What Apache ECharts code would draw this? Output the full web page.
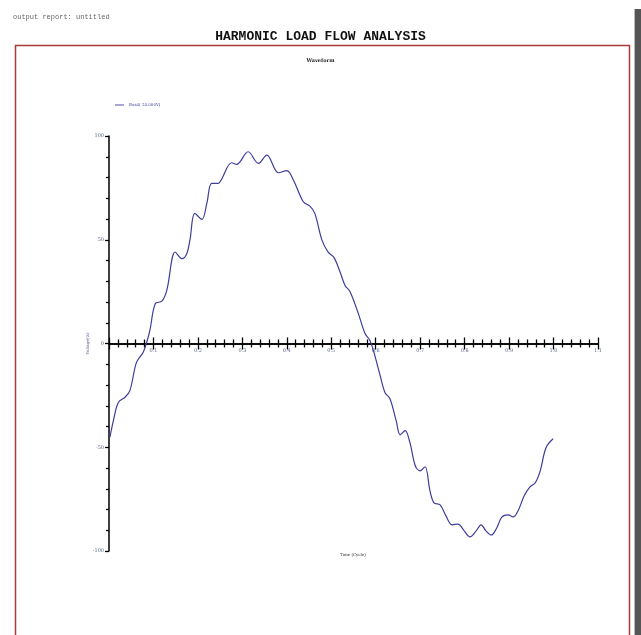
<!DOCTYPE html>
<html>
<head>
<meta charset="utf-8">
<style>
  html, body { margin: 0; padding: 0; background: #ffffff; }
  #chart { width: 641px; height: 635px; }
</style>
<script src="https://cdn.jsdelivr.net/npm/echarts@6/dist/echarts.min.js"></script>
</head>
<body>
<div id="chart"></div>
<script>
// Bus voltage waveform over one fundamental cycle (time in cycles, voltage in %)
const timeCycle = [
  0.002, 0.010, 0.021, 0.036, 0.047, 0.062, 0.077, 0.084, 0.092, 0.104,
  0.119, 0.130, 0.149, 0.164, 0.175, 0.182, 0.193, 0.209, 0.220, 0.231,
  0.246, 0.252, 0.276, 0.287, 0.313, 0.336, 0.355, 0.381, 0.400, 0.415,
  0.437, 0.452, 0.463, 0.479, 0.493, 0.506, 0.520, 0.531, 0.542, 0.560,
  0.576, 0.587, 0.596, 0.610, 0.621, 0.632, 0.646, 0.655, 0.666, 0.677,
  0.689, 0.700, 0.711, 0.722, 0.731, 0.745, 0.758, 0.772, 0.785, 0.799,
  0.812, 0.826, 0.837, 0.848, 0.860, 0.871, 0.884, 0.898, 0.909, 0.920,
  0.934, 0.947, 0.959, 0.970, 0.983, 0.999
];
const voltagePct = [
  -45.3, -37.0, -28.4, -25.9, -22.7, -9.0, -4.2, 0.0, 6.3, 19.2,
  20.4, 25.6, 44.1, 40.9, 43.3, 49.8, 62.7, 59.8, 67.5, 77.2,
  77.2, 78.7, 87.1, 86.3, 92.4, 86.8, 90.8, 82.3, 83.3, 78.7,
  68.3, 66.2, 62.7, 49.8, 44.0, 41.5, 34.3, 28.0, 25.1, 15.0,
  4.8, 1.4, -4.3, -15.5, -23.7, -26.6, -37.2, -44.0, -42.0, -47.8,
  -58.9, -61.4, -59.4, -71.0, -76.8, -77.8, -83.1, -87.4, -87.0, -90.3,
  -93.2, -90.3, -87.4, -90.3, -92.3, -89.4, -83.6, -82.6, -83.6, -80.7,
  -73.4, -69.1, -67.1, -61.4, -50.2, -45.9
];
const yTicks = [-100, -50, 0, 50, 100];
const xTickLabels = ['0.1', '0.2', '0.3', '0.4', '0.5', '0.6', '0.7', '0.8', '0.9', '1.0', '1.1'];
const seriesName = 'Bus4( 24.000V)';

const chart = echarts.init(document.getElementById('chart'), null, { renderer: 'canvas' });

const tinyLabel = { fontSize: 5, color: '#5a6a8a', fontFamily: 'DejaVu Serif' };
const plotBox = { left: 109, right: 43, top: 136, bottom: 84, containLabel: false };
const tickStyle = { color: '#000', width: 1.3 };

// Two overlaid grids: the second one only carries the upward half of the
// time-axis ticks so that every tick crosses the zero line.
chart.setOption({
  animation: false,
  backgroundColor: '#ffffff',
  title: [
    { text: 'output report: untitled', left: 8, top: 9,
      textStyle: { fontFamily: 'Liberation Mono', fontSize: 7, fontWeight: 'normal', color: '#666' } },
    { text: 'HARMONIC LOAD FLOW ANALYSIS', left: 'center', top: 25,
      textStyle: { fontFamily: 'Liberation Mono', fontSize: 13, fontWeight: 'bold', color: '#111' } },
    { text: 'Waveform', left: 'center', top: 53,
      textStyle: { fontFamily: 'DejaVu Serif', fontSize: 5, fontWeight: 'bold', color: '#222' } }
  ],
  graphic: [
    { type: 'rect', silent: true, shape: { x: 15.5, y: 45.5, width: 614, height: 620 },
      style: { fill: 'none', stroke: '#a83a3a', lineWidth: 1.5 } },
    { type: 'rect', silent: true, shape: { x: 634, y: 9, width: 1, height: 626 },
      style: { fill: '#bbbbbb' } },
    { type: 'rect', silent: true, shape: { x: 635, y: 9, width: 6, height: 626 },
      style: { fill: '#555555' } },
    { type: 'text', silent: true, left: 340, top: 553,
      style: { text: 'Time (Cycle)', fontSize: 4, fill: '#333', fontFamily: 'DejaVu Serif' } }
  ],
  legend: {
    left: 110, top: 98, itemWidth: 9, itemHeight: 4, itemGap: 2,
    icon: 'path://M0,0 L10,0 L10,1 L0,1 Z',
    data: [seriesName],
    textStyle: { fontSize: 4, color: '#4a4aa0', fontFamily: 'DejaVu Serif' }
  },
  grid: [Object.assign({}, plotBox), Object.assign({}, plotBox)],
  xAxis: [
    {
      gridIndex: 0, type: 'value', min: 0, max: 1.1, interval: 0.1,
      axisLine: { show: true, onZero: true, lineStyle: { color: '#000', width: 1.5 } },
      axisTick: { show: true, length: 6, lineStyle: tickStyle },
      minorTick: { show: true, splitNumber: 5, length: 4, lineStyle: tickStyle },
      splitLine: { show: false },
      // labels sit just under the zero line
      axisLabel: Object.assign({}, tinyLabel, {
        margin: -203,
        formatter: function (v) {
          const i = Math.round(v * 10);
          return i >= 1 ? xTickLabels[i - 1] : '';
        }
      })
    },
    {
      gridIndex: 1, type: 'value', min: 0, max: 1.1, interval: 0.1,
      axisLine: { show: true, onZero: true, lineStyle: { color: '#000', width: 1.5 } },
      axisTick: { show: true, inside: true, length: 6, lineStyle: tickStyle },
      minorTick: { show: true, splitNumber: 5, length: 4, lineStyle: tickStyle },
      splitLine: { show: false },
      axisLabel: { show: false }
    }
  ],
  yAxis: [
    {
      gridIndex: 0, type: 'value', min: -100, max: 100, interval: 50,
      name: 'Voltage(%)', nameLocation: 'middle', nameGap: 19, nameRotate: 90,
      nameMoveOverlap: false,
      nameTextStyle: { fontSize: 4, color: '#4a4a80', fontFamily: 'DejaVu Serif' },
      axisLine: { show: true, lineStyle: { color: '#000', width: 1.5 } },
      axisTick: { show: true, length: 4, lineStyle: tickStyle },
      minorTick: { show: true, splitNumber: 5, length: 3, lineStyle: tickStyle },
      splitLine: { show: false },
      axisLabel: Object.assign({}, tinyLabel, {
        margin: 5,
        formatter: function (v) { return yTicks.indexOf(v) >= 0 ? String(v) : ''; }
      })
    },
    {
      gridIndex: 1, type: 'value', min: -100, max: 100, interval: 50,
      axisLine: { show: false }, axisTick: { show: false },
      axisLabel: { show: false }, splitLine: { show: false }
    }
  ],
  series: [{
    name: seriesName,
    type: 'line',
    xAxisIndex: 0,
    yAxisIndex: 0,
    showSymbol: false,
    smooth: 0.35,
    lineStyle: { color: '#3d3d9c', width: 1.2 },
    itemStyle: { color: '#3d3d9c' },
    data: timeCycle.map(function (t, i) { return [t, voltagePct[i]]; })
  }]
});
</script>
</body>
</html>
